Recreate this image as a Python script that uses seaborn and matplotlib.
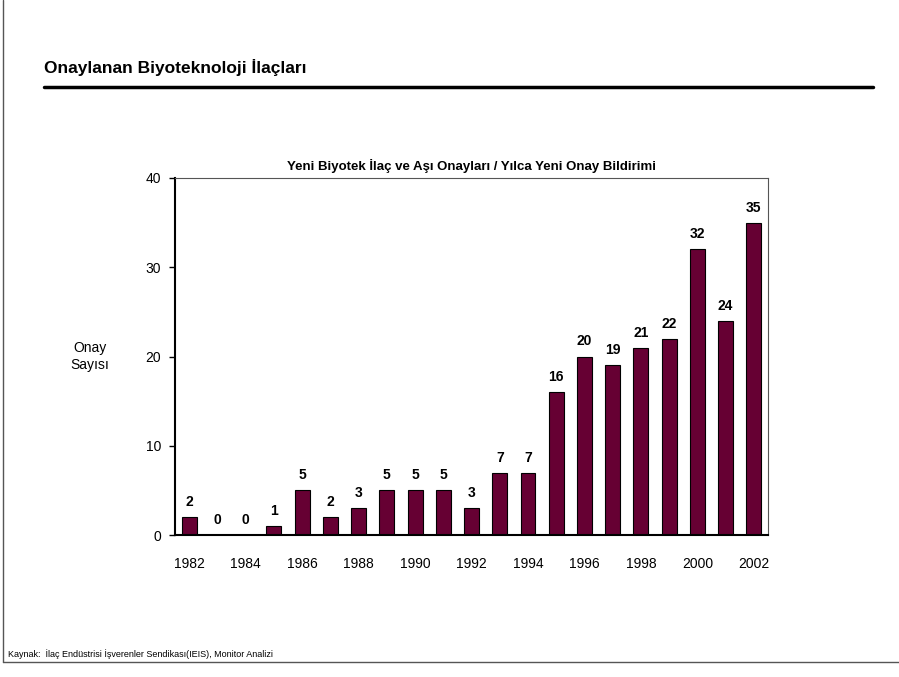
import pandas as pd
import matplotlib.pyplot as plt
import seaborn as sns

years = list(range(1982, 2003))
approvals = [2, 0, 0, 1, 5, 2, 3, 5, 5, 5, 3, 7, 7, 16, 20, 19, 21, 22, 32, 24, 35]
yticks = [0, 10, 20, 30, 40]

sns.set_theme(style="white")
plt.rcParams["font.family"] = ["Liberation Sans", "DejaVu Sans"]
plt.rcParams["text.color"] = "black"
plt.rcParams["xtick.color"] = "black"
plt.rcParams["ytick.color"] = "black"
plt.rcParams["axes.labelcolor"] = "black"

df = pd.DataFrame({"year": years, "count": approvals})

fig = plt.figure(figsize=(8.99, 6.77), dpi=100)
ax = fig.add_axes([0.1947, 0.2097, 0.6596, 0.5274])

sns.barplot(data=df, x="year", y="count", color="#660033", width=0.53,
            edgecolor="black", linewidth=0.8, saturation=1, ax=ax)

for i, v in enumerate(approvals):
    ax.text(i, v + 0.9, str(v), ha="center", va="bottom",
            fontsize=10, fontweight="bold")

ax.set_ylim(0, 40)
ax.set_xlim(-0.5, len(years) - 0.5)
ax.set_yticks(yticks)
ax.set_xticks(range(0, len(years), 2))
ax.set_xticklabels([str(y) for y in years[::2]], fontsize=10)
ax.tick_params(axis="y", labelsize=10, left=True, length=4, width=1, pad=6)
ax.tick_params(axis="x", bottom=False, pad=10)
ax.set_xlabel("")
ax.set_ylabel("Onay\nSayısı", rotation=0, fontsize=10, labelpad=40, va="center")
for s in ["left", "bottom"]:
    ax.spines[s].set_color("black")
    ax.spines[s].set_linewidth(1.5)
for s in ["top", "right"]:
    ax.spines[s].set_color("#555555")
    ax.spines[s].set_linewidth(0.8)

ax.set_title("Yeni Biyotek İlaç ve Aşı Onayları / Yılca Yeni Onay Bildirimi",
             fontsize=9.5, fontweight="bold", pad=6)

fig.text(44 / 899, 1 - 68 / 677, "Onaylanan Biyoteknoloji İlaçları",
         fontsize=12.5, fontweight="bold", va="center", ha="left")
fig.add_artist(plt.Line2D([44 / 899, 873 / 899], [1 - 87 / 677, 1 - 87 / 677],
                          color="black", linewidth=2.5))

fig.text(8 / 899, 1 - 654 / 677,
         "Kaynak:  İlaç Endüstrisi İşverenler Sendikası(IEIS), Monitor Analizi",
         fontsize=6.5, va="center", ha="left")

# cerceve
fig.add_artist(plt.Line2D([3 / 899, 3 / 899], [1 - 662 / 677, 1.0],
                          color="#555555", linewidth=1))
fig.add_artist(plt.Line2D([3 / 899, 1.0], [1 - 662 / 677, 1 - 662 / 677],
                          color="#555555", linewidth=1))

plt.savefig("out.png", dpi=100)
